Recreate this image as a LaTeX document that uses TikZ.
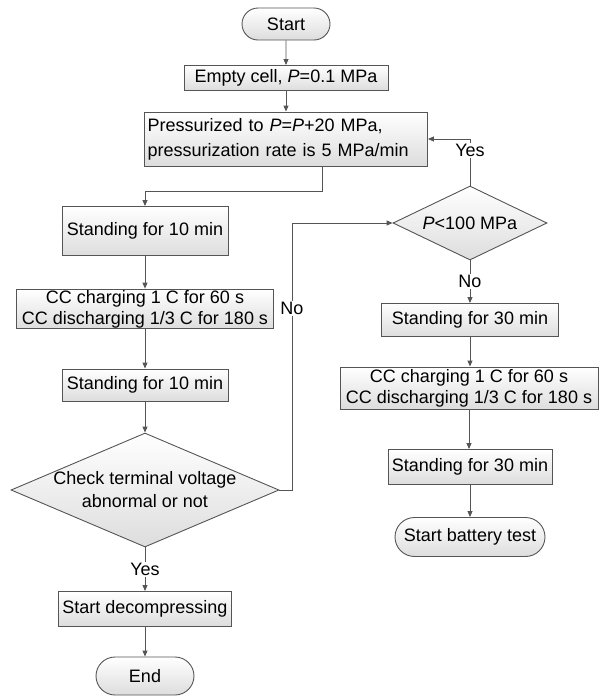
\documentclass[tikz,border=0pt]{standalone}
\usepackage{fontspec}
\setmainfont{Liberation Sans}
\usetikzlibrary{arrows.meta,shapes.geometric,shapes.misc}
\definecolor{linec}{HTML}{555555}
\definecolor{fillc}{HTML}{DDDDDD}

\begin{document}
\begin{tikzpicture}[x=1pt,y=-1pt,font=\fontsize{18}{21}\selectfont,
box/.style n args={2}{draw=linec,line width=0.9pt,top color=white,bottom color=fillc,minimum width=#1,minimum height=#2,inner sep=1pt},
term/.style n args={2}{box={#1}{#2},rounded rectangle},
dec/.style n args={3}{box={#1}{#2},diamond,aspect=#3,inner sep=0pt,align=center},
arr/.style={draw=linec,line width=0.9pt,-{Triangle[length=6pt,width=5pt]}},
lbl/.style={fill=white,inner sep=1pt}]
\useasboundingbox (0,0) rectangle (601,697);
\node[term={90}{32}] (start) at (286,24) {Start};
\node[box={204}{25}] (empty) at (286,78) {Empty cell, \textit{P}=0.1 MPa};
\node[box={283}{54},text width=277pt,inner xsep=3pt,align=left,font=\fontsize{18}{25}\selectfont] (press) at (286,139) {Pressurized to \textit{P}=\textit{P}+20 MPa,\\pressurization rate is 5 MPa/min};
\node[box={166}{49}] (stand1) at (145,231) {Standing for 10 min};
\node[box={257}{39},align=center] (cc1) at (145,309) {CC charging 1 C for 60 s\\CC discharging 1/3 C for 180 s};
\node[box={166}{32}] (stand2) at (145,385) {Standing for 10 min};
\node[dec={268}{114}{2.35},inner sep=-2pt,font=\fontsize{18}{23}\selectfont] (check) at (145,490) {Check terminal voltage\\abnormal or not};
\node[box={173}{35}] (decomp) at (145,609) {Start decompressing};
\node[term={100}{38}] (end) at (145,676) {End};
\node[dec={154}{74}{2.08}] (pless) at (470,223) {\textit{P}<100 MPa};
\node[box={177}{33}] (stand3) at (470,320) {Standing for 30 min};
\node[box={258}{42},align=center] (cc2) at (469,388) {CC charging 1 C for 60 s\\CC discharging 1/3 C for 180 s};
\node[box={164}{35}] (stand4) at (470,467) {Standing for 30 min};
\node[term={152}{39}] (battery) at (470,537) {Start battery test};
\foreach \a/\b in {start/empty,empty/press,stand1/cc1,cc1/stand2,stand2/check,decomp/end,stand3/cc2,cc2/stand4,stand4/battery}
  \draw[arr] (\a) -- (\a |- \b.north);
\coordinate (bend1) at (322,191);
\draw[arr] (press.south -| bend1) -- (bend1) -| (stand1.north);
\draw[arr] (check) -- node[lbl] (yes1) {Yes} (check |- decomp.north);
\coordinate (bend2) at (292,490);
\draw[arr] (check.east) -- (bend2) |- node[lbl,pos=0.34] (no1) {No} (pless.west);
\draw[arr] (pless.north) -- node[lbl,pos=0.75] (yes2) {Yes} (pless |- press.east) -- (press.east);
\draw[arr] (pless) -- node[lbl] (no2) {No} (pless |- stand3.north);
\end{tikzpicture}
\end{document}
